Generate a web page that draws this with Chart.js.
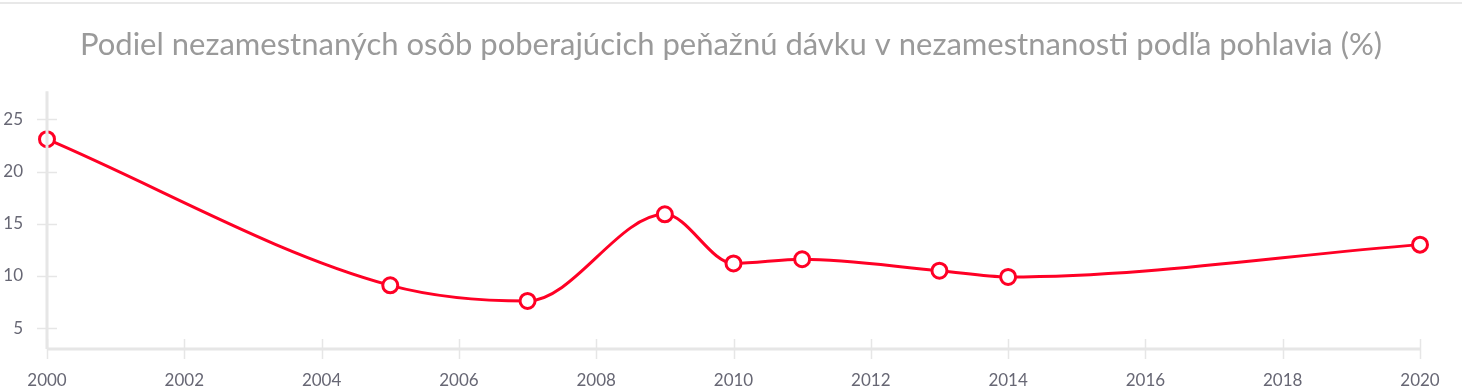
<!DOCTYPE html>
<html lang="sk">
<head>
<meta charset="utf-8">
<title>Podiel nezamestnaných osôb</title>
<script src="https://cdn.jsdelivr.net/npm/chart.js@4.4.1/dist/chart.umd.min.js"></script>
<style>
  html, body { margin: 0; padding: 0; background: #fff; }
  #wrap { position: relative; width: 1462px; height: 390px; }
  #topline { position: absolute; left: 0; top: 2px; width: 1462px; height: 2px; background: #e8e8e8; }
  #graf { position: absolute; left: 0; top: 0; }
</style>
</head>
<body>
<div id="wrap">
  <div id="topline"></div>
  <canvas id="graf" width="1462" height="390"></canvas>
</div>
<script>
// ---- údaje ----
const roky    = [2000, 2005, 2007, 2009, 2010, 2011, 2013, 2014, 2020];
const podiel  = [23.1, 9.1, 7.6, 15.9, 11.2, 11.6, 10.5, 9.9, 13.0];
const xTicky  = [2000, 2002, 2004, 2006, 2008, 2010, 2012, 2014, 2016, 2018, 2020];
const yTicky  = [5, 10, 15, 20, 25];
const nadpis  = 'Podiel nezamestnaných osôb poberajúcich peňažnú dávku v nezamestnanosti podľa pohlavia (%)';

const CERVENA = '#ff0025';
const SIVA_OS = '#e6e6e6';
const PISMO   = 'Lato, "Noto Sans", sans-serif';

// osi a krížiky tickov kreslíme až nad dátami (ako v originále)
const osiPlugin = {
  id: 'osi',
  afterDatasetsDraw(chart) {
    const { ctx, chartArea: a, scales: { x, y } } = chart;
    ctx.save();
    ctx.strokeStyle = SIVA_OS;
    // tick krížiky
    ctx.lineWidth = 1.5;
    yTicky.forEach(v => {
      const py = Math.round(y.getPixelForValue(v)) + 0.5;
      ctx.beginPath(); ctx.moveTo(a.left - 10, py); ctx.lineTo(a.left + 10, py); ctx.stroke();
    });
    xTicky.forEach(v => {
      const px = Math.round(x.getPixelForValue(v)) + 0.5;
      ctx.beginPath(); ctx.moveTo(px, a.bottom - 10); ctx.lineTo(px, a.bottom + 10); ctx.stroke();
    });
    // hlavné osi
    ctx.lineWidth = 3;
    ctx.beginPath(); ctx.moveTo(a.left, a.top); ctx.lineTo(a.left, a.bottom); ctx.stroke();
    ctx.beginPath(); ctx.moveTo(a.left, a.bottom); ctx.lineTo(a.right, a.bottom); ctx.stroke();
    ctx.restore();
  }
};

new Chart(document.getElementById('graf'), {
  type: 'line',
  data: {
    datasets: [{
      data: roky.map((r, i) => ({ x: r, y: podiel[i] })),
      borderColor: CERVENA,
      borderWidth: 3,
      backgroundColor: '#fff',
      pointBackgroundColor: '#fff',
      pointBorderColor: CERVENA,
      pointBorderWidth: 3,
      pointRadius: 7.5,
      cubicInterpolationMode: 'monotone',
      clip: false
    }]
  },
  options: {
    responsive: false,
    animation: false,
    layout: { padding: 0 },
    plugins: {
      legend: { display: false },
      tooltip: { enabled: false },
      title: {
        display: true,
        text: nadpis,
        color: '#9a9a9a',
        font: { family: PISMO, size: 31, weight: 'normal' },
        padding: { top: 26, bottom: 28 }
      }
    },
    scales: {
      x: {
        type: 'linear',
        min: 2000, max: 2020,
        afterBuildTicks: s => { s.ticks = xTicky.map(v => ({ value: v })); },
        afterFit: s => { s.height = 41; },
        grid: { display: false, drawTicks: false },
        border: { display: false },
        ticks: {
          padding: 21,
          color: '#676774',
          font: { family: PISMO, size: 17 },
          maxRotation: 0,
          callback: v => String(v)
        }
      },
      y: {
        min: 3, max: 27.7,
        afterBuildTicks: s => { s.ticks = yTicky.map(v => ({ value: v })); },
        afterFit: s => { s.width = 47; },
        grid: { display: false, drawTicks: false },
        border: { display: false },
        ticks: {
          padding: 24,
          color: '#676774',
          font: { family: PISMO, size: 17 },
          callback: v => String(v)
        }
      },
      // prázdny pravý okraj, aby bol nadpis centrovaný na celú šírku
      pravy: {
        position: 'right',
        afterFit: s => { s.width = 42; },
        grid: { display: false, drawTicks: false },
        border: { display: false },
        ticks: { display: false }
      }
    }
  },
  plugins: [osiPlugin]
});
</script>
</body>
</html>
